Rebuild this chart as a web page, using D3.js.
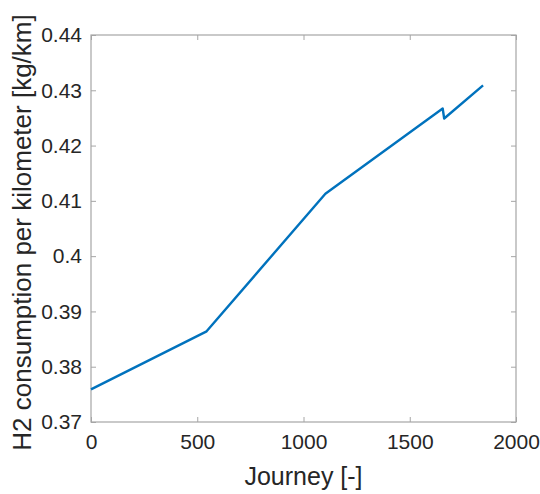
<!DOCTYPE html>
<html>
<head>
<meta charset="utf-8">
<script src="https://cdn.jsdelivr.net/npm/d3@7"></script>
<style>
  body { margin: 0; background: #fff; }
  svg { display: block; font-family: "Liberation Sans", Arial, sans-serif; }
</style>
</head>
<body>
<svg width="540" height="494"></svg>
<script>
// values
const journey = [0, 544, 1103, 1655, 1662, 1845]
const consumption = [0.3759, 0.3864, 0.4113, 0.4267, 0.4249, 0.4309]
const xTicks = [0, 500, 1000, 1500, 2000]
const yTicks = [0.37, 0.38, 0.39, 0.4, 0.41, 0.42, 0.43, 0.44]

const svg = d3.select('svg')
const margin = {top: 35, right: 24, bottom: 72, left: 91}
const width = 540 - margin.left - margin.right
const height = 494 - margin.top - margin.bottom
const g = svg.append('g').attr('transform', 'translate(' + margin.left + ',' + margin.top + ')')

const x = d3.scaleLinear().domain([0, 2000]).range([0, width])
const y = d3.scaleLinear().domain([0.37, 0.44]).range([height, 0])

const axisColor = '#a6a6a6'
const textColor = '#262626'

function styleAxis (sel, showText) {
  sel.select('.domain').remove()
  sel.selectAll('.tick line').attr('stroke', axisColor).attr('stroke-width', 1)
  sel.selectAll('.tick text')
    .attr('fill', textColor)
    .attr('font-size', 21)
    .style('display', showText ? null : 'none')
}

// inward ticks on all four sides, like a boxed plot
g.append('g')
  .attr('transform', 'translate(0,' + height + ')')
  .call(d3.axisBottom(x).tickValues(xTicks).tickSize(-5).tickPadding(12).tickFormat(d3.format('d')))
  .call(s => styleAxis(s, true))
  .call(s => s.selectAll('.tick text').attr('dy', '0.71em'))

g.append('g')
  .call(d3.axisTop(x).tickValues(xTicks).tickSize(-5))
  .call(s => styleAxis(s, false))

g.append('g')
  .call(d3.axisLeft(y).tickValues(yTicks).tickSize(-5).tickPadding(9).tickFormat(d => d3.format('')(+d.toFixed(2))))
  .call(s => styleAxis(s, true))

g.append('g')
  .attr('transform', 'translate(' + width + ',0)')
  .call(d3.axisRight(y).tickValues(yTicks).tickSize(-5))
  .call(s => styleAxis(s, false))

// box
g.append('rect')
  .attr('width', width)
  .attr('height', height)
  .attr('fill', 'none')
  .attr('stroke', axisColor)
  .attr('stroke-width', 1.2)

const line = d3.line()
  .x((d, i) => x(journey[i]))
  .y(d => y(d))

g.append('path')
  .datum(consumption)
  .attr('fill', 'none')
  .attr('stroke', '#0072BD')
  .attr('stroke-width', 2.4)
  .attr('stroke-linejoin', 'round')
  .attr('d', line)

svg.append('text')
  .attr('x', margin.left + width / 2)
  .attr('y', 485)
  .attr('text-anchor', 'middle')
  .attr('font-size', 25)
  .attr('fill', textColor)
  .text('Journey [-]')

svg.append('text')
  .attr('transform', 'translate(31,' + (margin.top + height / 2 + 4) + ') rotate(-90)')
  .attr('text-anchor', 'middle')
  .attr('font-size', 26)
  .attr('fill', textColor)
  .text('H2 consumption per kilometer [kg/km]')
</script>
</body>
</html>
